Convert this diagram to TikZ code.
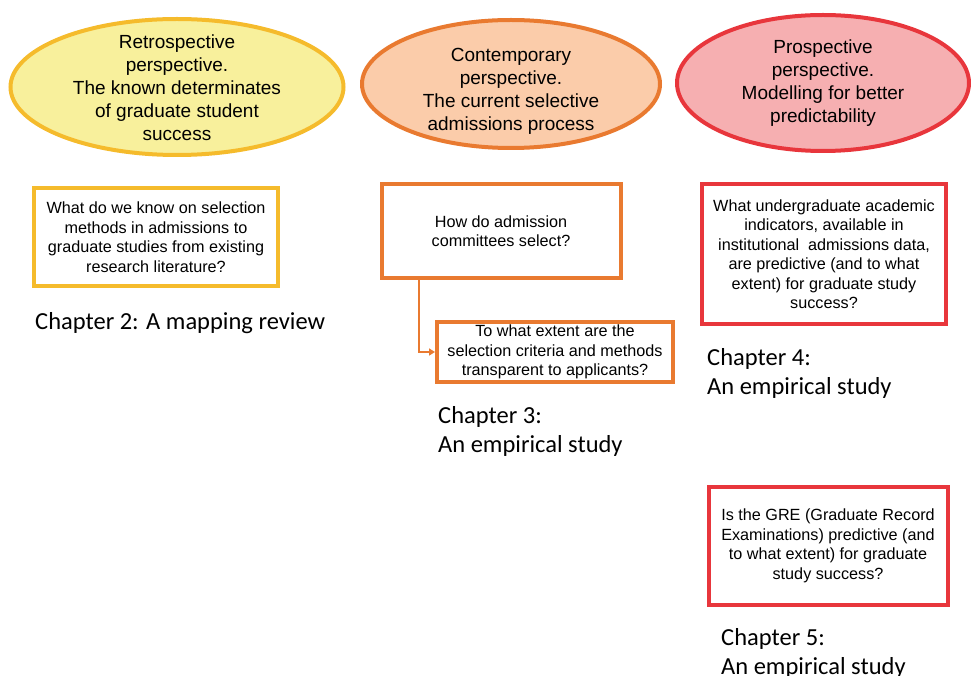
\documentclass[tikz,border=0pt]{standalone}
\usepackage{fontspec}
\setmainfont{Liberation Sans}
\newfontfamily\chapfont{Carlito}
\usepackage{tikz}
\usetikzlibrary{positioning,arrows.meta,shapes.geometric}
\definecolor{retroline}{HTML}{F5BB2C}
\definecolor{retrofill}{HTML}{F8F09C}
\definecolor{contline}{HTML}{E97A30}
\definecolor{contfill}{HTML}{FBCCAA}
\definecolor{prosline}{HTML}{E8363C}
\definecolor{prosfill}{HTML}{F6AFB1}
\tikzstyle{persp} = [ellipse, line width=4pt, inner sep=0pt]
\tikzstyle{ptext} = [align=center, inner sep=0pt, font=\fontsize{19}{23}\selectfont]
\tikzstyle{qbox}  = [rectangle, draw, line width=4pt, fill=white, align=center,
                     font=\fontsize{16.2}{19.5}\selectfont]
\tikzstyle{chap}  = [align=left, anchor=north west, inner sep=0pt,
                     font=\chapfont\fontsize{24.5}{29}\selectfont]

\begin{document}
\begin{tikzpicture}[
			x=1pt,y=-1pt,
			flow/.style={line width=2pt, draw=contline, -{Triangle[length=6pt,width=7pt]}}
		]
		\useasboundingbox (0,0) rectangle (971,676);

		% perspectives
		\node[persp,draw=retroline,fill=retrofill,minimum width=333,minimum height=136] (R) at (177,87) {};
		\node[persp,draw=contline,fill=contfill,minimum width=298,minimum height=128] (C) at (511,84) {};
		\node[persp,draw=prosline,fill=prosfill,minimum width=292,minimum height=136] (P) at (823,83) {};
		\node[ptext] (Rt) at ([yshift=-1pt]R.center) {Retrospective\\perspective.\\The known determinates\\of graduate student\\success};
		\node[ptext] (Ct) at ([yshift=-7pt]C.center) {Contemporary\\perspective.\\The current selective\\admissions process};
		\node[ptext] (Pt) at (P.center) {Prospective\\perspective.\\Modelling for better\\predictability};

		% questions
		\node[qbox,draw=retroline,minimum width=244,minimum height=97] (Q1) at (156,237)
			{What do we know on selection\\methods in admissions to\\graduate studies from existing\\research literature?};
		\node[qbox,draw=contline,minimum width=239,minimum height=94] (Q2) at (501,231)
			{How do admission\\committees select?};
		\node[qbox,draw=contline,minimum width=236,minimum height=59] (Q3) at (555,352)
			{To what extent are the\\selection criteria and methods\\transparent to applicants?};
		\node[qbox,draw=prosline,minimum width=244,minimum height=139] (Q4) at (824,254)
			{What undergraduate academic\\indicators, available in\\institutional~ admissions data,\\are predictive (and to what\\extent) for graduate study\\success?};
		\node[qbox,draw=prosline,minimum width=239,minimum height=118] (Q5) at (828,546)
			{Is the GRE (Graduate Record\\Examinations) predictive (and\\to what extent) for graduate\\study success?};

		\draw[flow] ([xshift=39pt]Q2.south west) |- (Q3.west);

		% chapters
		\node[chap] (Ch2) at (35,312) {Chapter 2: A mapping review};
		\node[chap] (Ch3) at (438,406) {Chapter 3:\\An empirical study};
		\node[chap] (Ch4) at (707,348) {Chapter 4:\\An empirical study};
		\node[chap] (Ch5) at (721,628) {Chapter 5:\\An empirical study};
	\end{tikzpicture}
\end{document}
